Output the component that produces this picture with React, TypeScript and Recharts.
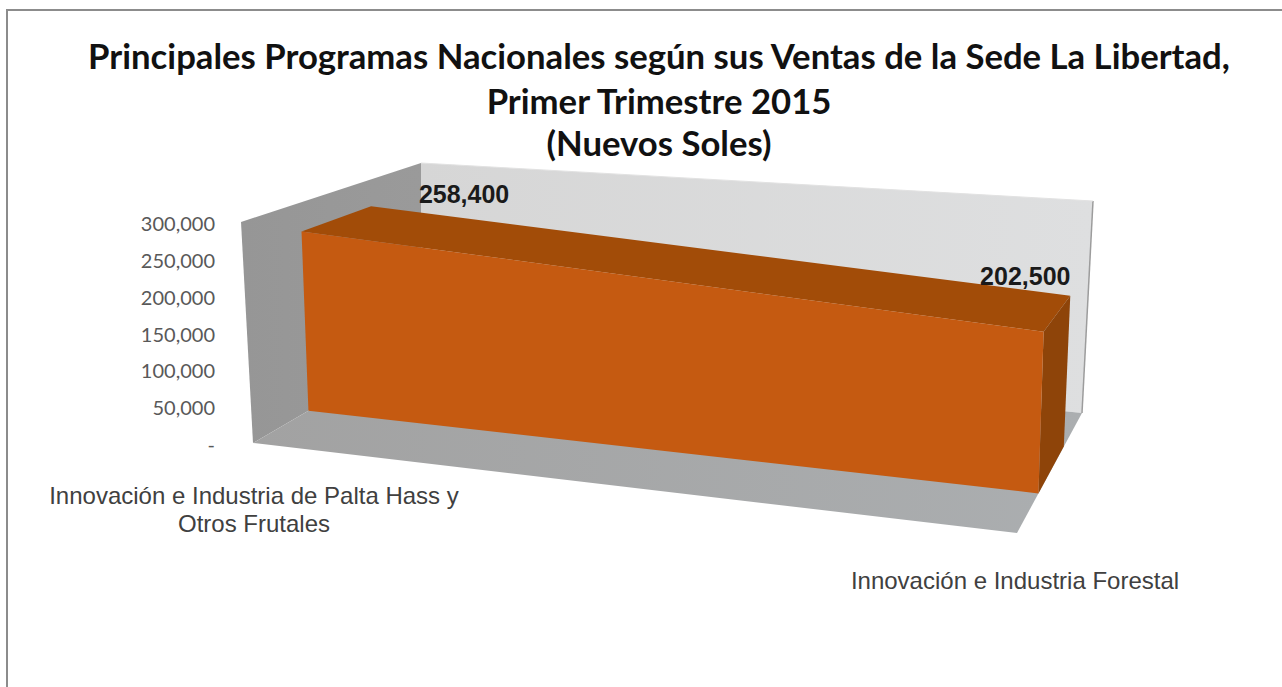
import React from 'react';
import { AreaChart, Area, XAxis, YAxis } from 'recharts';

const CATEGORIES = ['Innovación e Industria de Palta Hass y\nOtros Frutales', 'Innovación e Industria Forestal'];
const SALES = [258400, 202500];
const Y_TICKS = [0, 50000, 100000, 150000, 200000, 250000, 300000];
const TITLE_LINES = [
  'Principales Programas Nacionales según sus Ventas de la Sede La Libertad,',
  'Primer Trimestre 2015',
  '(Nuevos Soles)'
];

const data = CATEGORIES.map((name, i) => ({ name, ventas: SALES[i] }));

const WIDTH = 1282;
const HEIGHT = 687;
const PLOT_TOP = 224;
const PLOT_BOTTOM = 445;
const PLOT_LEFT = 254;
const PLOT_RIGHT = 1015;

// Box corners of the 3D view, [x, y] on screen: front/back, left/right, bottom/top
const BOX = {
  flb: [253, 443], flt: [241, 222], frb: [1017, 533], frt: [1023, 280],
  blb: [421, 345], blt: [421, 163], brb: [1082, 413], brt: [1093, 201]
};
// depth of the front and back of the series inside the box
const DEPTH_FRONT = 0.33;
const DEPTH_BACK = 0.72;

const LABEL_OFFSETS = [[93, -12], [-45, -20]];
const X_TICK_DY = [50, 135];

const mix = (a: number[], b: number[], t: number) => [a[0] + (b[0] - a[0]) * t, a[1] + (b[1] - a[1]) * t];

// plot space (u along x, v up the value axis, d into the screen) -> screen
function project(u: number, v: number, d: number) {
  const front = mix(mix(BOX.flb, BOX.frb, u), mix(BOX.flt, BOX.frt, u), v);
  const back = mix(mix(BOX.blb, BOX.brb, u), mix(BOX.blt, BOX.brt, u), v);
  return mix(front, back, d);
}

const toPath = (pts: number[][]) => pts.map(p => p.join(',')).join(' ');
const fmt = (v: number) => (v === 0 ? '-' : v.toLocaleString('en-US'));

// The area's dots hand over the points from the chart's scales, the whole 3D scene is drawn from them once
const Scene3D = (props: any) => {
  const { index, points } = props;
  if (index !== 0 || !points) return <g key={index} />;
  const n = points.length;
  const x0 = points[0].x;
  const x1 = points[n - 1].x;
  const uv = points.map((p: any) => [(p.x - x0) / (x1 - x0), (PLOT_BOTTOM - p.y) / (PLOT_BOTTOM - PLOT_TOP)]);
  const top = (d: number) => uv.map(([u, v]: number[]) => project(u, v, d));
  const base = (d: number) => uv.map(([u]: number[]) => project(u, 0, d));
  const [lastU, lastV] = uv[n - 1];

  return (
    <g key="scene">
      <polygon points={toPath([BOX.blb, BOX.blt, BOX.brt, BOX.brb])} fill="url(#backWall)" />
      <line x1={BOX.brt[0]} y1={BOX.brt[1]} x2={BOX.brb[0]} y2={BOX.brb[1]} stroke="#9c9c9c" strokeWidth={1.5} />
      <line x1={BOX.blt[0]} y1={BOX.blt[1]} x2={BOX.brt[0]} y2={BOX.brt[1]} stroke="#e2e2e2" strokeWidth={1} />
      <polygon points={toPath([BOX.flb, BOX.flt, BOX.blt, BOX.blb])} fill="url(#leftWall)" />
      <polygon points={toPath([BOX.flb, BOX.blb, BOX.brb, BOX.frb])} fill="url(#floor)" />
      <polygon points={toPath([...top(DEPTH_FRONT), ...top(DEPTH_BACK).reverse()])} fill="#a24c08" />
      <polygon
        points={toPath([
          project(lastU, lastV, DEPTH_FRONT),
          project(lastU, lastV, DEPTH_BACK),
          project(lastU, 0, DEPTH_BACK),
          project(lastU, 0, DEPTH_FRONT)
        ])}
        fill="#8e4409"
      />
      <polygon points={toPath([...top(DEPTH_FRONT), ...base(DEPTH_FRONT).reverse()])} fill="#c55a11" />
      {top(DEPTH_BACK).map((p: number[], i: number) => (
        <text
          key={i}
          x={p[0] + LABEL_OFFSETS[i][0]}
          y={p[1] + LABEL_OFFSETS[i][1]}
          textAnchor="middle"
          dominantBaseline="central"
          fontFamily="Liberation Sans"
          fontWeight={700}
          fontSize={25}
          fill="#1a1a1a"
        >
          {SALES[i].toLocaleString('en-US')}
        </text>
      ))}
    </g>
  );
};

const XTick = ({ x, y, payload, index }: any) => (
  <text
    x={x}
    y={y + X_TICK_DY[index]}
    textAnchor="middle"
    dominantBaseline="central"
    fontFamily="Liberation Sans"
    fontSize={24}
    fill="#404040"
  >
    {String(payload.value).split('\n').map((line, i) => (
      <tspan key={i} x={x} dy={i === 0 ? 0 : 28}>
        {line}
      </tspan>
    ))}
  </text>
);

export default function App() {
  return (
    <div style={{ position: 'absolute', left: 0, top: 0, width: WIDTH, height: HEIGHT, background: '#fff', overflow: 'hidden' }}>
      <div style={{ position: 'absolute', left: 6, top: 9, right: 0, bottom: 0, borderTop: '2px solid #8c8c8c', borderLeft: '2px solid #8c8c8c' }} />
      {TITLE_LINES.map((line, i) => (
        <div
          key={line}
          style={{
            position: 'absolute',
            left: 0,
            width: 1318,
            top: [56, 101, 143][i] - 20,
            lineHeight: '40px',
            textAlign: 'center',
            fontFamily: 'Lato',
            fontWeight: 700,
            fontSize: 34.7,
            color: '#111',
            whiteSpace: 'nowrap'
          }}
        >
          {line}
        </div>
      ))}
      <AreaChart
        width={WIDTH}
        height={HEIGHT}
        data={data}
        margin={{ top: PLOT_TOP, right: WIDTH - PLOT_RIGHT, bottom: HEIGHT - PLOT_BOTTOM - 140, left: 0 }}
        style={{ position: 'absolute', left: 0, top: 0 }}
      >
        <defs>
          <linearGradient id="backWall" x1="0" y1="0" x2="1" y2="0">
            <stop offset="0%" stopColor="#d6d6d6" />
            <stop offset="100%" stopColor="#dedfe0" />
          </linearGradient>
          <linearGradient id="leftWall" x1="0" y1="0" x2="1" y2="0">
            <stop offset="0%" stopColor="#969696" />
            <stop offset="100%" stopColor="#9a9a9a" />
          </linearGradient>
          <linearGradient id="floor" x1="0" y1="0" x2="1" y2="0">
            <stop offset="0%" stopColor="#a2a2a2" />
            <stop offset="100%" stopColor="#abaeb0" />
          </linearGradient>
        </defs>
        <XAxis
          dataKey="name"
          height={140}
          interval={0}
          axisLine={false}
          tickLine={false}
          tickSize={0}
          tickMargin={0}
          tick={XTick}
        />
        <YAxis
          width={PLOT_LEFT}
          domain={[0, 300000]}
          ticks={Y_TICKS}
          interval={0}
          tickFormatter={fmt}
          axisLine={false}
          tickLine={false}
          tickSize={0}
          tickMargin={39}
          tick={{ fontFamily: 'Lato', fontSize: 20, fill: '#595959' }}
        />
        <Area
          dataKey="ventas"
          type="linear"
          fill="none"
          stroke="none"
          dot={Scene3D}
          activeDot={false}
          isAnimationActive={false}
        />
      </AreaChart>
    </div>
  );
}
